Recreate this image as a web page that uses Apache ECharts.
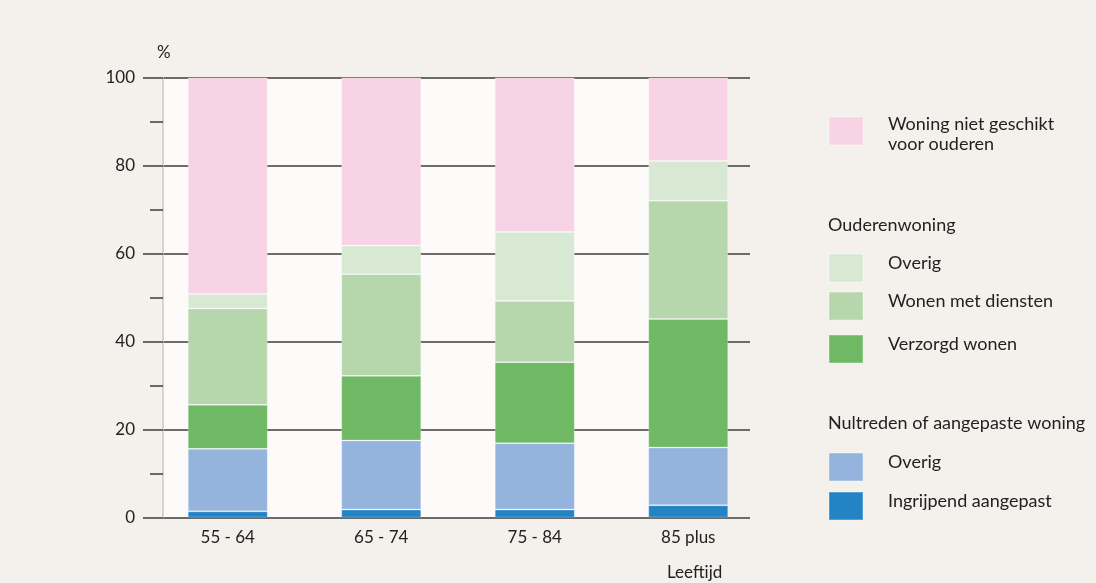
<!DOCTYPE html>
<html>
<head>
<meta charset="utf-8">
<style>
  html, body { margin: 0; padding: 0; background: #f4f1ed; }
  #chart { width: 1096px; height: 583px; }
</style>
<script src="https://cdn.jsdelivr.net/npm/echarts@6/dist/echarts.min.js"></script>
</head>
<body>
<div id="chart"></div>
<script>
// Age groups on the horizontal axis
const categories = ['55 - 64', '65 - 74', '75 - 84', '85 plus'];

// Share of households (%) per type of dwelling, stacked from the bottom up
const ingrijpendAangepast = [1.4, 1.8, 1.8, 2.8];
const nultredenOverig     = [14.2, 15.7, 15.1, 13.1];
const verzorgdWonen       = [10.0, 14.7, 18.4, 29.2];
const wonenMetDiensten    = [21.9, 23.1, 13.9, 26.9];
const ouderenOverig       = [3.3, 6.5, 15.7, 9.0];
const nietGeschikt        = [49.2, 38.2, 35.1, 19.0];

const yTicks = [0, 20, 40, 60, 80, 100];

const FONT = 'Lato, "Open Sans", sans-serif';
const TEXT = '#222222';
const LINE = '#3c3c3c';
const FS = 18;

const seriesDefs = [
  { name: 'Ingrijpend aangepast', label: 'Ingrijpend aangepast', data: ingrijpendAangepast, color: '#2483c5' },
  { name: 'Overig (nultreden)', label: 'Overig', data: nultredenOverig, color: '#94b4de' },
  { name: 'Verzorgd wonen', label: 'Verzorgd wonen', data: verzorgdWonen, color: '#6fb965' },
  { name: 'Wonen met diensten', label: 'Wonen met diensten', data: wonenMetDiensten, color: '#b5d7ab' },
  { name: 'Overig (ouderenwoning)', label: 'Overig', data: ouderenOverig, color: '#d7e9d3' },
  { name: 'Woning niet geschikt', label: 'Woning niet geschikt\nvoor ouderen', data: nietGeschikt, color: '#f8d3e5' }
];
const labelOf = {};
seriesDefs.forEach(s => { labelOf[s.name] = s.label; });

// Legend entries, one block each, placed in the right-hand column
const legendTops = {
  'Woning niet geschikt': 107,
  'Overig (ouderenwoning)': 253,
  'Wonen met diensten': 291,
  'Verzorgd wonen': 334,
  'Overig (nultreden)': 452,
  'Ingrijpend aangepast': 491
};
const richStyles = {
  // single line, sitting a little above the swatch centre
  s: { fontFamily: FONT, fontSize: FS, color: TEXT, lineHeight: 22, padding: [0, 0, 10, 0] },
  // two-line label
  a: { fontFamily: FONT, fontSize: FS, color: TEXT, lineHeight: 22, padding: [8, 0, 0, 0] },
  b: { fontFamily: FONT, fontSize: FS, color: TEXT, lineHeight: 22, padding: [4, 0, 0, 0] }
};
const legends = Object.keys(legendTops).map(name => ({
  left: 828,
  top: legendTops[name],
  padding: 0,
  orient: 'vertical',
  selectedMode: false,
  icon: 'rect',
  itemWidth: 34,
  itemHeight: 28,
  data: [name],
  formatter: n => {
    const lines = labelOf[n].split('\n');
    if (lines.length === 1) return '{s|' + lines[0] + '}';
    return '{a|' + lines[0] + '}\n{b|' + lines[1] + '}';
  },
  textStyle: { fontFamily: FONT, fontSize: FS, color: TEXT, lineHeight: 22, padding: [0, 0, 0, 20], rich: richStyles }
}));

const headStyle = { fontFamily: FONT, fontSize: FS, fontWeight: 'normal', color: TEXT };

const chart = echarts.init(document.getElementById('chart'), null, { renderer: 'canvas' });

chart.setOption({
  backgroundColor: '#f4f1ed',
  animation: false,
  textStyle: { fontFamily: FONT },
  title: [
    { text: 'Leeftijd', left: 667, top: 564, padding: 0, textStyle: Object.assign({}, headStyle, { fontSize: 17 }) },
    { text: 'Ouderenwoning', left: 828, top: 216, padding: 0, textStyle: headStyle },
    { text: 'Nultreden of aangepaste woning', left: 828, top: 414, padding: 0, textStyle: headStyle }
  ],
  legend: legends,
  grid: [
    // light plotting panel
    { left: 163, top: 77.5, width: 565, height: 440, show: true, backgroundColor: '#fcfbfa', borderWidth: 0 },
    // value axis with gridlines
    { left: 163, top: 77.5, width: 587, height: 440 },
    // bars
    { left: 151, top: 77.5, width: 614, height: 440 }
  ],
  xAxis: [
    { gridIndex: 0, type: 'category', data: categories, show: false },
    { gridIndex: 1, type: 'category', data: categories, show: false },
    {
      gridIndex: 2, type: 'category', data: categories,
      axisLine: { show: false }, axisTick: { show: false },
      axisLabel: { margin: 12, fontFamily: FONT, fontSize: 17, color: TEXT }
    }
  ],
  yAxis: [
    { gridIndex: 0, type: 'value', min: 0, max: 100, show: false },
    {
      gridIndex: 1, type: 'value', min: 0, max: 100, interval: 20,
      name: '%', nameLocation: 'end', nameGap: 16,
      nameTextStyle: { fontFamily: FONT, fontSize: 17, color: TEXT, align: 'left', padding: [0, 0, 0, -6] },
      axisLine: { show: true, lineStyle: { color: '#cdc8c3', width: 1.5 } },
      axisTick: { show: true, length: 20, lineStyle: { color: LINE, width: 1.5 } },
      minorTick: { show: true, splitNumber: 2, length: 13, lineStyle: { color: LINE, width: 1.5 } },
      splitLine: { show: true, lineStyle: { color: LINE, width: 1.5 } },
      axisLabel: {
        margin: 28, fontFamily: FONT, fontSize: 17, color: TEXT,
        formatter: v => (yTicks.indexOf(v) >= 0 ? String(v) : '')
      }
    },
    { gridIndex: 2, type: 'value', min: 0, max: 100, show: false }
  ],
  series: seriesDefs.map(s => ({
    name: s.name,
    type: 'bar',
    xAxisIndex: 2,
    yAxisIndex: 2,
    stack: 'total',
    barWidth: 80,
    z: 3,
    itemStyle: { color: s.color, borderColor: 'rgba(255,255,255,0.22)', borderWidth: 1 },
    emphasis: { disabled: true },
    data: s.data
  }))
});
</script>
</body>
</html>
